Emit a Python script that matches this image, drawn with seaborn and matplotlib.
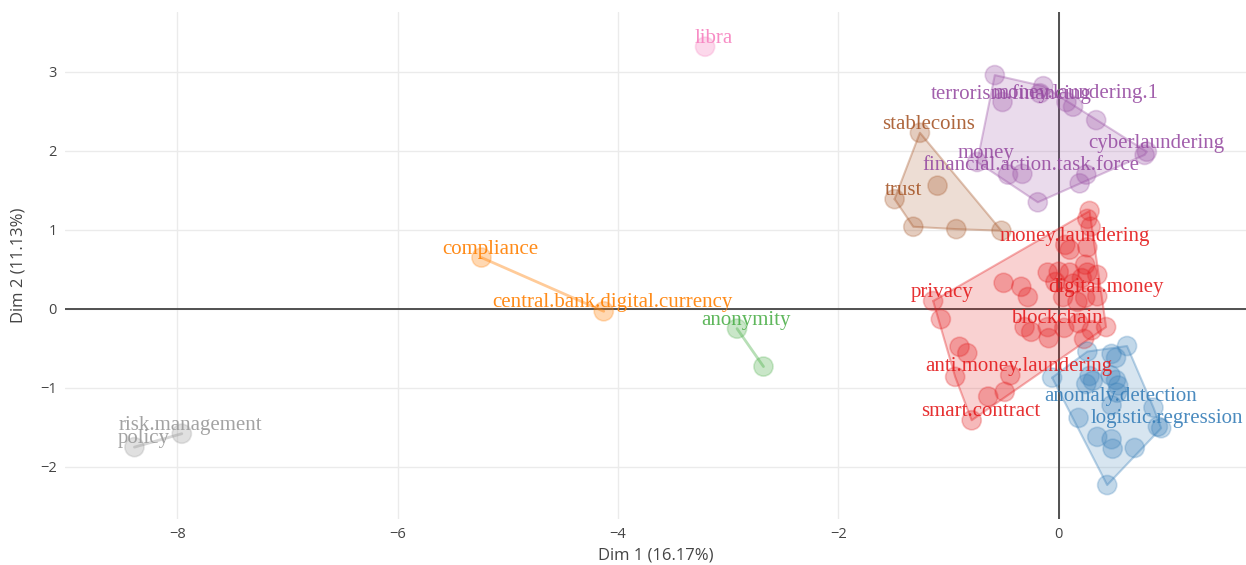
import numpy as np
import pandas as pd
import matplotlib
matplotlib.use("Agg")
import matplotlib.pyplot as plt
import seaborn as sns

# ---------------- data ----------------
red_x = [0.28, 0.26, 0.29, 0.06, 0.10, 0.26, -0.10, 0.00, 0.10, 0.24, 0.26, 0.35, -0.03, 0.13,
         0.21, -0.50, -0.34, -0.28, 0.04, 0.17, 0.24, 0.35, -1.14, -1.07, -0.31, -0.25, -0.09,
         0.05, 0.18, 0.30, 0.43, 0.23, -0.90, -0.83, -0.94, -0.44, -0.64, -0.49, -0.79, -0.10]
red_y = [1.24, 1.14, 1.04, 0.81, 0.75, 0.78, 0.46, 0.47, 0.46, 0.56, 0.46, 0.43, 0.34, 0.32,
         0.39, 0.33, 0.28, 0.15, 0.15, 0.09, 0.14, 0.16, 0.10, -0.13, -0.23, -0.29, -0.37,
         -0.24, -0.18, -0.27, -0.23, -0.38, -0.48, -0.56, -0.86, -0.84, -1.11, -1.05, -1.41, -0.23]
red_lab = ["", "", "", "money.laundering", "", "", "", "", "", "", "", "", "", "",
           "", "", "", "", "", "", "", "digital.money", "privacy", "", "", "", "",
           "", "", "", "", "", "", "", "", "anti.money.laundering", "", "", "smart.contract", "blockchain"]

blue_x = [0.62, 0.48, 0.52, -0.06, 0.28, 0.31, 0.25, 0.47, 0.52, 0.54, 0.53, 0.18, 0.86, 0.90,
          0.93, 0.35, 0.48, 0.49, 0.69, 0.44, 0.48, 0.26]
blue_y = [-0.47, -0.57, -0.62, -0.87, -0.85, -0.91, -0.95, -0.84, -0.90, -0.97, -1.06, -1.38,
          -1.25, -1.49, -1.51, -1.62, -1.65, -1.77, -1.76, -2.23, -1.22, -0.54]
blue_lab = ["", "", "", "", "", "", "", "", "", "", "", "", "", "logistic.regression",
            "", "", "", "", "", "", "anomaly.detection", ""]

purple_x = [-0.58, -0.51, -0.14, -0.17, 0.07, 0.13, 0.34, 0.78, 0.80, 0.25, 0.19, -0.19, -0.33, -0.46, -0.74]
purple_y = [2.96, 2.62, 2.82, 2.73, 2.62, 2.56, 2.39, 1.95, 1.99, 1.70, 1.59, 1.35, 1.71, 1.70, 1.86]
purple_lab = ["", "terrorism.financing", "", "", "money.laundering.1", "", "", "", "cyberlaundering",
              "", "", "", "financial.action.task.force", "", "money"]

brown_x = [-1.26, -1.10, -1.49, -1.32, -0.93, -0.52]
brown_y = [2.23, 1.56, 1.39, 1.04, 1.01, 0.99]
brown_lab = ["stablecoins", "", "trust", "", "", ""]

orange_x = [-5.24, -4.13]
orange_y = [0.65, -0.03]
orange_lab = ["compliance", "central.bank.digital.currency"]

green_x = [-2.92, -2.68]
green_y = [-0.25, -0.73]
green_lab = ["anonymity", ""]

pink_x = [-3.21]
pink_y = [3.32]
pink_lab = ["libra"]

grey_x = [-7.96, -8.39]
grey_y = [-1.58, -1.75]
grey_lab = ["risk.management", "policy"]

clusters = ["1", "2", "3", "4", "5", "6", "7", "8"]
colors = ["#E41A1C", "#377EB8", "#4DAF4A", "#984EA3", "#FF7F00", "#A65628", "#F781BF", "#999999"]

# ---------------- build frame ----------------
groups = [
    ("1", red_x, red_y, red_lab),
    ("2", blue_x, blue_y, blue_lab),
    ("3", green_x, green_y, green_lab),
    ("4", purple_x, purple_y, purple_lab),
    ("5", orange_x, orange_y, orange_lab),
    ("6", brown_x, brown_y, brown_lab),
    ("7", pink_x, pink_y, pink_lab),
    ("8", grey_x, grey_y, grey_lab),
]
rows = []
for c, xs, ys, ls in groups:
    for x, y, l in zip(xs, ys, ls):
        rows.append({"Dim1": x, "Dim2": y, "label": l, "cluster": c})
df = pd.DataFrame(rows)
pal = dict(zip(clusters, colors))


def hull(pts):
    pts = sorted(set(pts))
    if len(pts) <= 2:
        return pts

    def cross(o, a, b):
        return (a[0] - o[0]) * (b[1] - o[1]) - (a[1] - o[1]) * (b[0] - o[0])

    lower, upper = [], []
    for p in pts:
        while len(lower) >= 2 and cross(lower[-2], lower[-1], p) <= 0:
            lower.pop()
        lower.append(p)
    for p in reversed(pts):
        while len(upper) >= 2 and cross(upper[-2], upper[-1], p) <= 0:
            upper.pop()
        upper.append(p)
    return lower[:-1] + upper[:-1]


# ---------------- plot ----------------
sns.set_theme(style="white")
plt.rcParams["font.family"] = ["Open Sans", "DejaVu Sans"]

fig = plt.figure(figsize=(12.46, 5.65), dpi=100)
ax = fig.add_axes([0.0522, 0.0814, 0.9478, 0.8975])

ax.set_xlim(-9.02, 1.70)
ax.set_ylim(-2.66, 3.76)
ax.set_xticks([-8, -6, -4, -2, 0])
ax.set_yticks([-2, -1, 0, 1, 2, 3])
ax.grid(True, color="#ebebeb", linewidth=1)
ax.set_axisbelow(True)
for s in ax.spines.values():
    s.set_visible(False)
ax.axhline(0, color="#444444", linewidth=1.3, zorder=1)
ax.axvline(0, color="#444444", linewidth=1.3, zorder=1)

# hulls
for c in clusters:
    sub = df[df.cluster == c]
    pts = list(zip(sub.Dim1, sub.Dim2))
    h = hull(pts)
    col = pal[c]
    if len(h) >= 3:
        hx = [p[0] for p in h] + [h[0][0]]
        hy = [p[1] for p in h] + [h[0][1]]
        ax.fill(hx, hy, color=col, alpha=0.2, linewidth=0, zorder=2)
        ax.plot(hx, hy, color=col, alpha=0.35, linewidth=1.5, zorder=2)
    elif len(h) == 2:
        ax.plot([h[0][0], h[1][0]], [h[0][1], h[1][1]], color=col, alpha=0.4, linewidth=2, zorder=2)

sns.scatterplot(data=df, x="Dim1", y="Dim2", hue="cluster", palette=pal, s=190,
                alpha=0.3, edgecolor=None, linewidth=0, legend=False, ax=ax, zorder=3)
# subtle rims
for c in clusters:
    sub = df[df.cluster == c]
    ax.scatter(sub.Dim1, sub.Dim2, s=190, facecolors="none", edgecolors=pal[c],
               alpha=0.25, linewidths=1.2, zorder=3)

for _, r in df.iterrows():
    if r.label:
        ax.annotate(r.label, (r.Dim1, r.Dim2), xytext=(6.5, 6), textcoords="offset points",
                    ha="center", va="center", fontsize=15, color=pal[r.cluster], alpha=0.9,
                    family=["Liberation Serif", "DejaVu Serif"], zorder=4)

ax.tick_params(axis="both", colors="#444444", labelsize=10.5, length=0, pad=6)
ax.set_xticklabels(["\u22128", "\u22126", "\u22124", "\u22122", "0"])
ax.set_yticklabels(["\u22122", "\u22121", "0", "1", "2", "3"])
for t in ax.get_xticklabels() + ax.get_yticklabels():
    t.set_color("#444444")
ax.set_xlabel("Dim 1 (16.17%)", fontsize=12, color="#444444", labelpad=4)
ax.set_ylabel("Dim 2 (11.13%)", fontsize=12, color="#444444", labelpad=10)

fig.savefig("out.png", dpi=100)
